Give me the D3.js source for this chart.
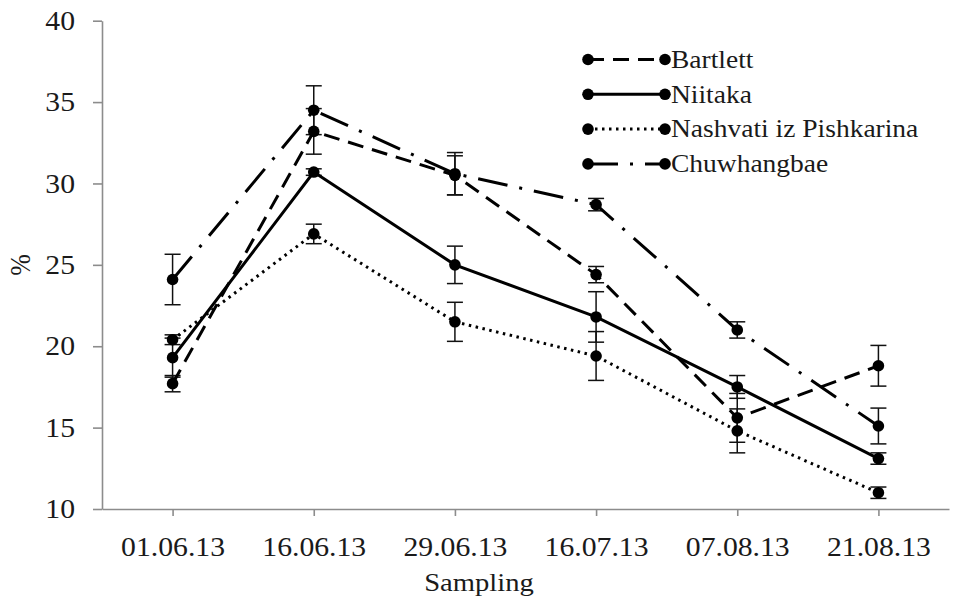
<!DOCTYPE html>
<html>
<head>
<meta charset="utf-8">
<script src="https://cdn.jsdelivr.net/npm/d3@7"></script>
<style>
  body { margin: 0; background: #fff; }
  svg text { font-family: "Liberation Serif", "Times New Roman", serif; fill: #1a1a1a; }
</style>
</head>
<body>
<svg id="chart" width="954" height="601"></svg>
<script>
// Sampling dates (x categories)
var dates = ["01.06.13", "16.06.13", "29.06.13", "16.07.13", "07.08.13", "21.08.13"];

// Series names
var names = ["Bartlett", "Niitaka", "Nashvati iz Pishkarina", "Chuwhangbae"];

// Series values (%)
var bartlett    = [17.7, 33.2, 30.5, 24.4, 15.6, 18.8];
var niitaka     = [19.3, 30.7, 25.0, 21.8, 17.5, 13.1];
var nashvati    = [20.4, 26.9, 21.5, 19.4, 14.8, 11.0];
var chuwhangbae = [24.1, 34.5, 30.6, 28.7, 21.0, 15.1];

// Error bar half-lengths
var bartlettErr    = [0.5, 1.4, 1.2, 0.5, 1.5, 1.25];
var niitakaErr     = [1.2, 0.2, 1.15, 1.55, 0.7, 0.35];
var nashvatiErr    = [0.3, 0.6, 1.2, 1.5, 1.35, 0.35];
var chuwhangbaeErr = [1.55, 1.5, 1.3, 0.38, 0.5, 1.1];

// Y tick labels
var yTicks = [10, 15, 20, 25, 30, 35, 40];

// Line styles for each series
var dashes = ["16,9", null, "2.5,4.5", "30,12,3,12"];

var series = [bartlett, niitaka, nashvati, chuwhangbae];
var errors = [bartlettErr, niitakaErr, nashvatiErr, chuwhangbaeErr];

var serifFont = "'Liberation Serif', 'Times New Roman', serif";

// Text in the original is a little wider than normal
var sx = 1.1;

var svg = d3.select("svg#chart");

var plotLeft = 102, plotRight = 949, plotTop = 20.7, plotBottom = 509;

var x = d3.scalePoint()
  .domain(dates)
  .range([plotLeft, plotRight])
  .padding(0.5);

var y = d3.scaleLinear()
  .domain([10, 40])
  .range([plotBottom, plotTop]);

function stretchText(sel) {
  sel.each(function() {
    var t = d3.select(this);
    var tx = +t.attr("x") || 0;
    t.attr("x", tx / sx).attr("transform", "scale(" + sx + ",1)");
  });
}

// Y axis
var yAxis = svg.append("g")
  .attr("transform", "translate(" + plotLeft + ",0)")
  .call(d3.axisLeft(y).tickValues(yTicks).tickSize(9).tickSizeOuter(0).tickPadding(18));

// X axis
var xAxis = svg.append("g")
  .attr("transform", "translate(0," + plotBottom + ")")
  .call(d3.axisBottom(x).tickSize(7).tickSizeOuter(0).tickPadding(21));

[yAxis, xAxis].forEach(function(ax) {
  ax.attr("font-family", null);
  ax.select(".domain").attr("stroke", "#8c8c8c").attr("stroke-width", 1.6);
  ax.selectAll(".tick line").attr("stroke", "#8c8c8c").attr("stroke-width", 1.6);
  ax.selectAll(".tick text")
    .attr("fill", "#1a1a1a")
    .style("font-size", "27px")
    .style("font-family", serifFont)
    .call(stretchText);
});

// Axis titles
svg.append("text")
  .attr("transform", "translate(479,591) scale(" + sx + ",1)")
  .attr("text-anchor", "middle")
  .style("font-family", serifFont)
  .style("font-size", "26px")
  .text("Sampling");

svg.append("text")
  .attr("transform", "translate(30,265) rotate(-90) scale(1," + sx + ")")
  .attr("text-anchor", "middle")
  .style("font-family", serifFont)
  .style("font-size", "26px")
  .text("%");

// Error bars
var capW = 8;
series.forEach(function(vals, s) {
  var g = svg.append("g").attr("stroke", "#111").attr("stroke-width", 1.5);
  vals.forEach(function(v, i) {
    var cx = x(dates[i]);
    var e = errors[s][i];
    g.append("line").attr("x1", cx).attr("x2", cx).attr("y1", y(v - e)).attr("y2", y(v + e));
    g.append("line").attr("x1", cx - capW).attr("x2", cx + capW).attr("y1", y(v - e)).attr("y2", y(v - e));
    g.append("line").attr("x1", cx - capW).attr("x2", cx + capW).attr("y1", y(v + e)).attr("y2", y(v + e));
  });
});

// Lines
var line = d3.line()
  .x(function(d, i) { return x(dates[i]); })
  .y(function(d) { return y(d); });

series.forEach(function(vals, s) {
  svg.append("path")
    .attr("d", line(vals))
    .attr("fill", "none")
    .attr("stroke", "#000")
    .attr("stroke-width", 3)
    .attr("stroke-dasharray", dashes[s]);

  svg.selectAll("circle.s" + s)
    .data(vals)
    .enter().append("circle")
    .attr("class", "s" + s)
    .attr("cx", function(d, i) { return x(dates[i]); })
    .attr("cy", function(d) { return y(d); })
    .attr("r", 5.8)
    .attr("fill", "#000");
});

// Legend
var legX1 = 588, legX2 = 665, legY0 = 59.5, legStep = 34.8;
var legend = svg.selectAll("g.legend")
  .data(names)
  .enter().append("g")
  .attr("class", "legend")
  .attr("transform", function(d, i) { return "translate(0," + (legY0 + i * legStep) + ")"; });

legend.append("line")
  .attr("x1", legX1).attr("x2", legX2)
  .attr("stroke", "#000")
  .attr("stroke-width", 3)
  .attr("stroke-dasharray", function(d, i) { return dashes[i]; });

legend.append("circle").attr("cx", legX1).attr("r", 5.8).attr("fill", "#000");
legend.append("circle").attr("cx", legX2).attr("r", 5.8).attr("fill", "#000");

legend.append("text")
  .attr("transform", "translate(" + (legX2 + 6) + ",0) scale(" + sx + ",1)")
  .attr("dy", "0.33em")
  .style("font-family", serifFont)
  .style("font-size", "25px")
  .text(function(d) { return d; });
</script>
</body>
</html>
